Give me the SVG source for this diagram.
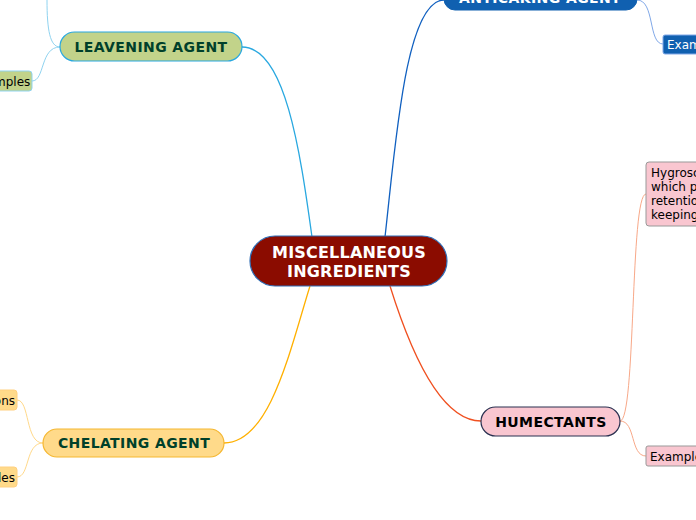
<svg xmlns="http://www.w3.org/2000/svg" width="696" height="520" viewBox="0 0 696 520">
<style>
text{font-family:"DejaVu Sans","Verdana",sans-serif}
.main{font-size:14px;font-weight:bold;text-anchor:middle;letter-spacing:0.4px}
.sub{font-size:12px}
.con{fill:none;stroke-width:1.3}
.thin{fill:none;stroke-width:1}
</style>
<rect width="696" height="520" fill="#ffffff"/>
<g id="connectors">
<path class="con" d="M312,237 C300,150 285,47 242,47" stroke="#29A8E0"/>
<path class="con" d="M385,237 C395,150 405,0 444,0" stroke="#1060C0"/>
<path class="con" d="M390,286 C410,350 440,421 481,421" stroke="#F05020"/>
<path class="con" d="M310,286 C290,350 270,443 224,443" stroke="#FFB000"/>
<path class="thin" d="M60,47 C50,47 47,30 47,0" stroke="#8FD3F0"/>
<path class="thin" d="M60,47 C40,47 45,81 32,81" stroke="#8FD3F0"/>
<path class="thin" d="M637,0 C655,0 648,44 663,44" stroke="#80A8E8"/>
<path class="thin" d="M620,421 C636,421 630,194 646,194" stroke="#F8A888"/>
<path class="thin" d="M620,421 C636,421 630,456 646,456" stroke="#F8A888"/>
<path class="thin" d="M43,443 C25,443 30,400 17,400" stroke="#FFD98A"/>
<path class="thin" d="M43,443 C25,443 30,477 17,477" stroke="#FFD98A"/>
</g>
<g id="central">
<rect x="250" y="236" width="197" height="50" rx="25" fill="#8B0C00" stroke="#2F6DB5" stroke-width="1.2"/>
<text x="349" y="258" font-size="16" font-weight="bold" fill="#ffffff" text-anchor="middle" letter-spacing="0.2">MISCELLANEOUS</text>
<text x="349" y="277" font-size="16" font-weight="bold" fill="#ffffff" text-anchor="middle" letter-spacing="0.2">INGREDIENTS</text>
</g>
<g id="leavening">
<rect x="60" y="32" width="182" height="29" rx="14.5" fill="#C2D38A" stroke="#29A8E0" stroke-width="1.2"/>
<text class="main" x="151" y="52" fill="#00402A">LEAVENING AGENT</text>
</g>
<g id="leavening-examples">
<rect x="-30" y="71" width="62" height="20" rx="3" fill="#C2D38A" stroke="#8FD3F0"/>
<text class="sub" x="-28" y="86" fill="#000000">Examples</text>
</g>
<g id="anticaking">
<rect x="444" y="-16" width="193" height="26" rx="11" fill="#1060B0" stroke="#1060B0"/>
<text class="main" x="540" y="3" fill="#ffffff">ANTICAKING AGENT</text>
</g>
<g id="anticaking-examples">
<rect x="663" y="35" width="70" height="19" rx="2" fill="#1060B0" stroke="#80A8E8"/>
<text class="sub" x="667" y="49" fill="#ffffff">Examples</text>
</g>
<g id="humectants">
<rect x="481" y="407" width="139" height="29" rx="14.5" fill="#F9C6D0" stroke="#2A3050" stroke-width="1.2"/>
<text class="main" x="551" y="427" fill="#000000">HUMECTANTS</text>
</g>
<g id="humectants-desc">
<rect x="646" y="162" width="120" height="64" rx="3" fill="#F9C6D0" stroke="#999999"/>
<text class="sub" x="651" y="177" fill="#000000">Hygroscopic substances</text>
<text class="sub" x="651" y="191" fill="#000000">which promote moisture</text>
<text class="sub" x="651" y="205" fill="#000000">retention and improve</text>
<text class="sub" x="651" y="219" fill="#000000">keeping quality</text>
</g>
<g id="humectants-examples">
<rect x="646" y="446" width="70" height="20" rx="2" fill="#F9C6D0" stroke="#999999"/>
<text class="sub" x="650" y="461" fill="#000000">Examples</text>
</g>
<g id="chelating">
<rect x="43" y="429" width="181" height="28" rx="14" fill="#FFDA8A" stroke="#F5B731" stroke-width="1.2"/>
<text class="main" x="134" y="448" fill="#00402A">CHELATING AGENT</text>
</g>
<g id="chelating-functions">
<rect x="-60" y="390" width="77" height="20" rx="3" fill="#FFDA8A" stroke="#FFD080"/>
<text class="sub" x="15" y="405" fill="#000000" text-anchor="end">Functions</text>
</g>
<g id="chelating-examples">
<rect x="-60" y="467" width="77" height="20" rx="3" fill="#FFDA8A" stroke="#FFD080"/>
<text class="sub" x="15" y="482" fill="#000000" text-anchor="end">Examples</text>
</g>
</svg>
